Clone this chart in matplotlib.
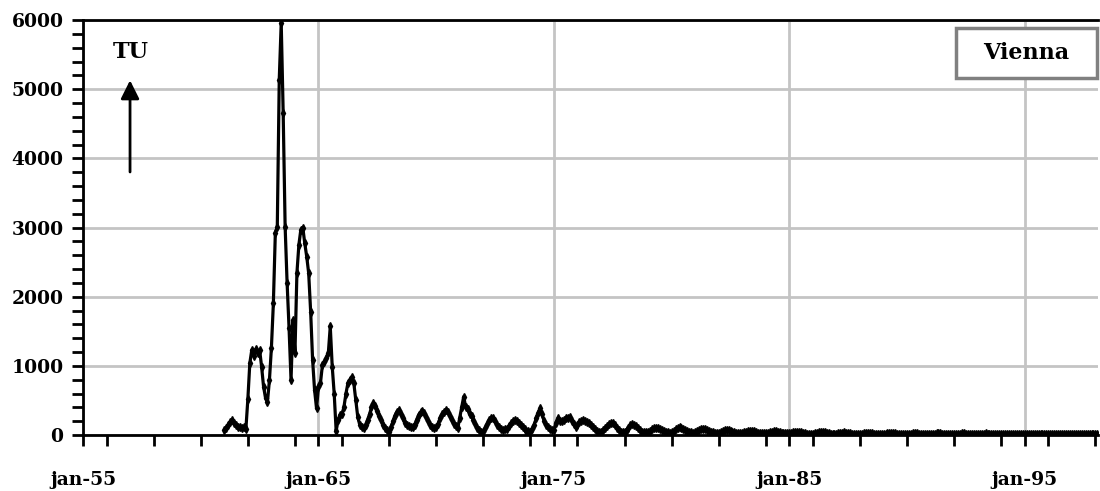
import numpy as np
import matplotlib.pyplot as plt
from matplotlib.patches import Rectangle
from matplotlib.ticker import MultipleLocator, FixedLocator

# Tritium em precipitação, Viena, valores mensais (TU), jan-1961 em diante
first_year = 1961

tu_1960s = [
    70, 100, 150, 190, 217, 180, 150, 120, 110, 100, 110, 90,          # 1961
    520, 1040, 1230, 1150, 1240, 1180, 1230, 990, 700, 536, 483, 797,  # 1962
    1260, 1905, 2920, 3010, 5140, 5960, 4660, 3010, 2200, 1545, 796, 1665,  # 1963
    1180, 2340, 2750, 2970, 3000, 2775, 2580, 2340, 1786, 1086, 650, 386,   # 1964
    700, 750, 1013, 1050, 1110, 1180, 1570, 990, 600, 60, 217, 290,    # 1965
    300, 410, 600, 750, 800, 845, 750, 507, 265, 150, 120, 97,         # 1966
    150, 220, 300, 400, 460, 420, 350, 280, 217, 150, 100, 70,         # 1967
    50, 120, 200, 280, 340, 360, 310, 250, 180, 145, 130, 110,         # 1968
    110, 150, 220, 290, 330, 350, 320, 260, 200, 150, 120, 100,        # 1969
]

tu_1970s = [
    110, 160, 250, 300, 340, 360, 330, 280, 220, 160, 130, 100,        # 1970
    250, 400, 555, 410, 380, 300, 280, 220, 160, 100, 70, 50,          # 1971
    50, 100, 160, 220, 240, 240, 200, 150, 110, 80, 70, 80,            # 1972
    90, 130, 170, 200, 220, 210, 180, 150, 110, 80, 60, 55,            # 1973
    50, 90, 150, 250, 320, 385, 300, 200, 150, 120, 90, 70,            # 1974
    70, 180, 240, 210, 200, 220, 240, 250, 265, 210, 160, 120,         # 1975
    150, 190, 210, 220, 200, 190, 170, 140, 110, 80, 60, 50,           # 1976
    50, 70, 100, 130, 160, 170, 170, 140, 100, 70, 50, 40,             # 1977
    40, 70, 100, 140, 160, 150, 130, 100, 70, 50, 40, 40,              # 1978
    40, 60, 80, 100, 100, 95, 85, 70, 55, 45, 40, 35,                  # 1979
]

tu_1980s = [
    45, 60, 80, 100, 110, 100, 90, 75, 60, 45, 40, 35,                 # 1980
    40, 55, 70, 85, 90, 85, 75, 60, 50, 40, 35, 35,                    # 1981
    35, 45, 60, 70, 75, 70, 60, 50, 40, 35, 30, 30,                    # 1982
    30, 40, 50, 60, 65, 60, 55, 45, 35, 30, 28, 28,                    # 1983
    28, 35, 45, 50, 55, 52, 45, 38, 30, 25, 24, 24,                    # 1984
    24, 30, 38, 45, 48, 45, 40, 33, 27, 22, 20, 20,                    # 1985
    22, 28, 35, 45, 50, 45, 38, 30, 25, 20, 19, 18,                    # 1986
    18, 24, 30, 35, 38, 36, 30, 25, 20, 17, 16, 16,                    # 1987
    16, 20, 26, 30, 33, 30, 27, 22, 18, 15, 14, 14,                    # 1988
    15, 19, 24, 28, 30, 28, 25, 20, 16, 14, 13, 13,                    # 1989
]

tu_1990s = [
    14, 18, 22, 26, 28, 26, 22, 18, 15, 13, 12, 12,                    # 1990
    12, 15, 19, 23, 25, 24, 21, 17, 14, 12, 11, 11,                    # 1991
    12, 15, 18, 22, 24, 23, 20, 16, 13, 11, 10, 11,                    # 1992
    11, 14, 18, 21, 23, 22, 19, 15, 13, 11, 10, 10,                    # 1993
    11, 13, 17, 20, 22, 21, 18, 15, 12, 10, 10, 10,                    # 1994
    10, 13, 16, 19, 21, 20, 17, 14, 12, 10, 9, 9,                      # 1995
    10, 12, 15, 18, 20, 19, 16, 13, 11, 10, 9, 9,                      # 1996
    10, 12, 15, 18, 19, 18, 16, 13, 11, 9, 9, 9,                       # 1997
    10, 12,                                                            # 1998
]

label_years = [1955, 1965, 1975, 1985, 1995]
station = "Vienna"
unit = "TU"

tu = np.array(tu_1960s + tu_1970s + tu_1980s + tu_1990s, dtype=float)
t = first_year + np.arange(len(tu)) / 12.0

plt.rcParams['font.family'] = ['DejaVu Serif']
plt.rcParams['font.weight'] = 'bold'

fig = plt.figure(figsize=(11, 4.91), dpi=100)
ax = fig.add_axes([0.0755, 0.114, 0.9225, 0.845])

ax.plot(t, tu, color='black', lw=2.3, marker='d', ms=4, zorder=3)

ax.set_xlim(1955, 1998.1)
ax.set_ylim(0, 6000)

ax.xaxis.set_major_locator(FixedLocator(label_years))
ax.xaxis.set_minor_locator(MultipleLocator(2))
ax.set_xticklabels([f"jan-{y % 100:02d}" for y in label_years])
ax.yaxis.set_major_locator(MultipleLocator(1000))
ax.yaxis.set_minor_locator(MultipleLocator(200))

ax.tick_params(which='both', direction='out', length=8, width=2, color='black')
ax.tick_params(axis='x', labelsize=13.5, pad=18)
ax.tick_params(axis='y', labelsize=13.5, pad=6)

ax.grid(True, which='major', color='#c4c4c4', lw=2)
ax.set_axisbelow(True)

for side in ['left', 'bottom', 'top']:
    ax.spines[side].set_linewidth(2)
    ax.spines[side].set_color('black')
ax.spines['right'].set_visible(False)

# seta e unidade
ax.annotate('', xy=(0.0463, 0.855), xytext=(0.0463, 0.634),
            xycoords='axes fraction',
            arrowprops=dict(arrowstyle='-|>', color='black', lw=2,
                            mutation_scale=28, shrinkA=0, shrinkB=0))
ax.text(0.0473, 0.922, unit, transform=ax.transAxes, ha='center',
        va='center', fontsize=16, fontweight='bold')

# caixa com o nome da estação
ax.add_patch(Rectangle((0.860, 0.860), 0.139, 0.121, transform=ax.transAxes,
                       facecolor='white', edgecolor='#808080', lw=2.5,
                       zorder=4, clip_on=False))
ax.text(0.9295, 0.92, station, transform=ax.transAxes, ha='center',
        va='center', fontsize=16, fontweight='bold', zorder=5)

fig.savefig('out.png', dpi=100)
